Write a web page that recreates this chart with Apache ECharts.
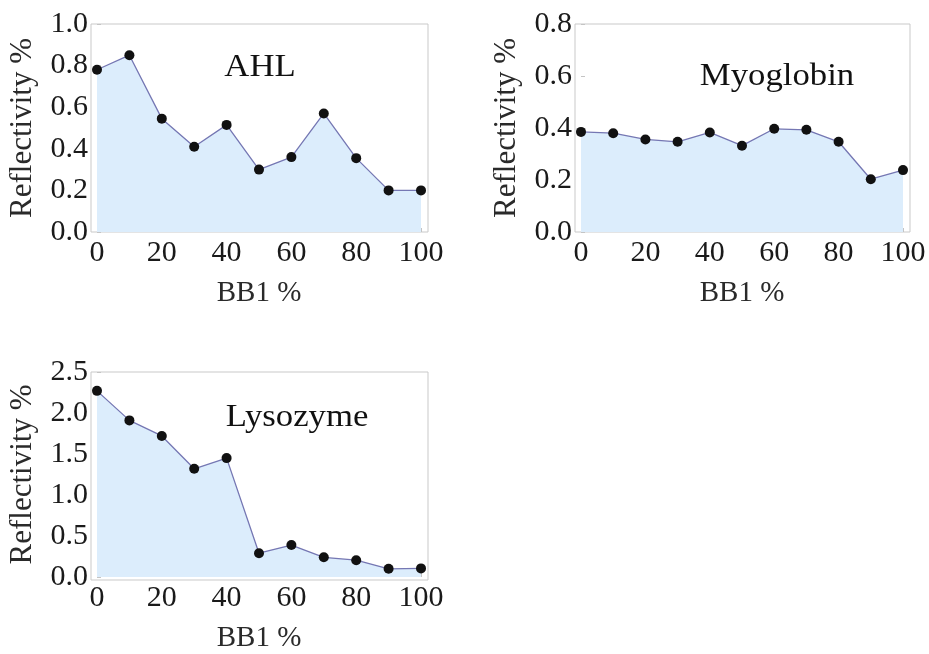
<!DOCTYPE html>
<html><head><meta charset="utf-8">
<script src="https://cdn.jsdelivr.net/npm/echarts@6/dist/echarts.min.js"></script>
<style>html,body{margin:0;padding:0;background:#fff}#c{width:929px;height:654px}</style>
</head><body><div id="c"></div>
<script>
const bb1 = [0, 10, 20, 30, 40, 50, 60, 70, 80, 90, 100];
const ahl = [0.78, 0.85, 0.545, 0.41, 0.515, 0.30, 0.36, 0.57, 0.355, 0.20, 0.20];
const myoglobin = [0.385, 0.38, 0.356, 0.347, 0.383, 0.332, 0.397, 0.393, 0.347, 0.203, 0.238];
const lysozyme = [2.27, 1.91, 1.72, 1.32, 1.45, 0.29, 0.39, 0.24, 0.205, 0.10, 0.105];
const xTicks = [0, 20, 40, 60, 80, 100];
const panelTitles = ['AHL', 'Myoglobin', 'Lysozyme'];
const yMax = [1.0, 0.8, 2.5];
const yStep = [0.2, 0.2, 0.5];
const seriesData = [ahl, myoglobin, lysozyme];

const FONT = 'Liberation Serif';
const panels = [
  {fl: 91, fw: 337, dl: 97, dw: 324, top: 24, h: 208, tx: 260, ty: 68},
  {fl: 575, fw: 335, dl: 581, dw: 322, top: 24, h: 208, tx: 777, ty: 77},
  {fl: 91, fw: 337, dl: 97, dw: 324, top: 372, h: 208, tx: 297, ty: 418}
];

const grids = [], xAxes = [], yAxes = [], series = [], graphics = [];
panels.forEach((p, i) => {
  grids.push({left: p.fl, top: p.top, width: p.fw, height: p.h, show: true, borderColor: '#c9c9c9', borderWidth: 1, backgroundColor: 'transparent'});
  xAxes.push({gridIndex: 2*i, type: 'value', min: 0, max: 1, show: false});
  yAxes.push({gridIndex: 2*i, type: 'value', min: 0, max: 1, show: false});
  grids.push({left: p.dl, top: p.top, width: p.dw, height: p.h});
  xAxes.push({
    gridIndex: 2*i+1, type: 'value', min: xTicks[0], max: xTicks[xTicks.length-1], interval: 20,
    axisLine: {show: false},
    axisTick: {show: true, inside: true, length: 4, lineStyle: {color: '#c4c4c4'}},
    minorTick: {show: true, splitNumber: 4, length: 2, lineStyle: {color: '#d4d4d4'}},
    splitLine: {show: false},
    axisLabel: {fontFamily: FONT, fontSize: 30, color: '#1a1a1a', margin: 6},
    name: 'BB1 %', nameLocation: 'middle', nameGap: 47,
    nameTextStyle: {fontFamily: FONT, fontSize: 29, color: '#2a2a2a'}
  });
  yAxes.push({
    gridIndex: 2*i+1, type: 'value', min: 0, max: yMax[i], interval: yStep[i], offset: p.dl - p.fl,
    axisLine: {show: false},
    axisTick: {show: true, inside: true, length: 4, lineStyle: {color: '#c4c4c4'}},
    splitLine: {show: false},
    axisLabel: {fontFamily: FONT, fontSize: 30, color: '#1a1a1a', margin: 3, formatter: v => v.toFixed(1)},
    name: 'Reflectivity %', nameLocation: 'middle', nameGap: 53,
    nameTextStyle: {fontFamily: FONT, fontSize: 31, color: '#2a2a2a'}
  });
  series.push({
    type: 'line', xAxisIndex: 2*i+1, yAxisIndex: 2*i+1,
    data: bb1.map((x, k) => [x, seriesData[i][k]]),
    symbol: 'circle', symbolSize: 10,
    itemStyle: {color: '#111', borderWidth: 0},
    lineStyle: {color: '#7577b3', width: 1.3},
    areaStyle: {color: '#dcedfc', opacity: 1},
    z: 3
  });
  graphics.push({type: 'text', x: p.tx, y: p.ty, scaleX: 1.12, style: {text: panelTitles[i], font: '31px "Liberation Serif"', fill: '#111', textAlign: 'center', textVerticalAlign: 'middle'}});
});

const chart = echarts.init(document.getElementById('c'), null, {renderer: 'canvas'});
chart.setOption({animation: false, grid: grids, xAxis: xAxes, yAxis: yAxes, series: series, graphic: graphics});
</script></body></html>
